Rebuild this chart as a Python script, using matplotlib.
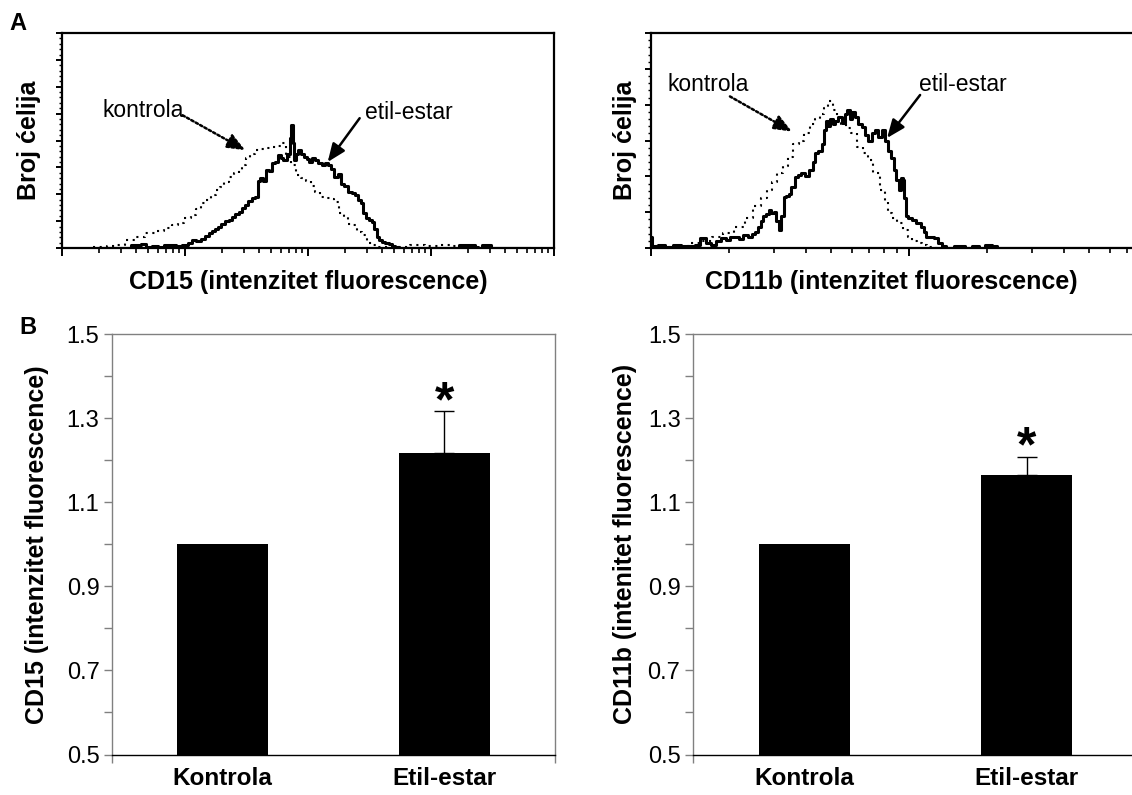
import matplotlib
matplotlib.use("Agg")
import matplotlib.pyplot as plt
import numpy as np
from matplotlib.ticker import FixedLocator, NullFormatter, LogLocator

plt.rcParams['font.family'] = ['Liberation Sans', 'DejaVu Sans']

# ---------------- data ----------------
# Panel A, CD15 histogram (x: log10 fluorescence, y: cell count units)
cd15_kontrola_log = [0.25, 0.33, 0.40, 0.47, 0.55, 0.63, 0.72, 0.80, 0.86, 0.93, 0.96, 1.02, 1.07, 1.11,
                     1.15, 1.19, 1.23, 1.27, 1.30, 1.34, 1.38, 1.42, 1.45, 1.48, 1.51, 1.55, 1.59, 1.64,
                     1.68, 1.72, 1.76, 1.80, 1.84, 1.88, 1.92, 1.96, 2.00, 2.04, 2.08, 2.12, 2.16, 2.20,
                     2.23, 2.27, 2.31, 2.34, 2.38, 2.42, 2.46, 2.50, 2.55, 2.59, 2.65, 2.75, 2.90, 3.00,
                     3.10, 3.20, 3.30, 3.40]
cd15_kontrola_cnt = [0.02, 0.05, 0.08, 0.10, 0.30, 0.42, 0.55, 0.65, 0.74, 0.85, 0.93, 1.10, 1.24, 1.45,
                     1.67, 1.80, 1.98, 2.15, 2.28, 2.45, 2.65, 2.80, 2.90, 3.10, 3.34, 3.50, 3.64, 3.70,
                     3.72, 3.77, 3.80, 3.90, 3.40, 3.10, 2.70, 2.60, 2.50, 2.30, 2.10, 1.90, 1.86, 1.84,
                     1.70, 1.30, 1.15, 0.90, 0.85, 0.60, 0.48, 0.19, 0.10, 0.05, 0.03, 0.05, 0.10, 0.08,
                     0.10, 0.06, 0.02, 0.00]

cd15_etil_log = [0.30, 0.50, 0.62, 0.66, 0.70, 0.76, 0.80, 0.85, 0.90, 0.95, 1.00, 1.04, 1.07, 1.11,
                 1.15, 1.18, 1.21, 1.23, 1.26, 1.28, 1.31, 1.34, 1.37, 1.39, 1.42, 1.45, 1.48, 1.50,
                 1.53, 1.56, 1.58, 1.60, 1.62, 1.65, 1.67, 1.70, 1.72, 1.75, 1.77, 1.79, 1.81, 1.84,
                 1.86, 1.87, 1.88, 1.89, 1.91, 1.93, 1.96, 1.98, 2.00, 2.02, 2.05, 2.07, 2.10, 2.12,
                 2.15, 2.18, 2.20, 2.23, 2.25, 2.28, 2.31, 2.34, 2.37, 2.40, 2.42, 2.44, 2.46, 2.48,
                 2.51, 2.53, 2.55, 2.57, 2.59, 2.61, 2.64, 2.67, 2.70, 2.72, 2.76, 3.20, 3.26, 3.30,
                 3.34, 3.37, 3.40, 3.43, 3.47, 3.50, 3.80]
cd15_etil_cnt = [0.00, 0.00, 0.12, 0.15, 0.05, 0.08, 0.03, 0.10, 0.10, 0.08, 0.12, 0.20, 0.30, 0.25,
                 0.35, 0.45, 0.55, 0.65, 0.72, 0.80, 0.90, 1.00, 1.05, 1.15, 1.25, 1.33, 1.50, 1.60,
                 1.74, 1.85, 1.90, 2.50, 2.60, 2.50, 2.90, 2.85, 3.15, 3.20, 3.45, 3.35, 3.27, 3.50,
                 4.10, 4.57, 3.90, 3.27, 3.50, 3.64, 3.50, 3.40, 3.30, 3.20, 3.35, 3.27, 3.15, 3.10,
                 3.15, 3.10, 2.95, 2.65, 2.75, 2.40, 2.30, 2.10, 2.05, 1.97, 1.80, 1.67, 1.30, 1.10,
                 1.05, 0.98, 0.70, 0.42, 0.30, 0.23, 0.18, 0.15, 0.08, 0.05, 0.00, 0.00, 0.12, 0.10,
                 0.12, 0.05, 0.00, 0.12, 0.10, 0.00, 0.00]

# Panel A, CD11b histogram
cd11b_kontrola_log = [0.02, 0.08, 0.13, 0.177, 0.22, 0.254, 0.30, 0.345, 0.38, 0.41, 0.44, 0.461, 0.48,
                      0.50, 0.52, 0.539, 0.565, 0.585, 0.603, 0.629, 0.645, 0.662, 0.68, 0.694, 0.713,
                      0.73, 0.745, 0.765, 0.784, 0.81, 0.83, 0.849, 0.875, 0.90, 0.915, 0.926, 0.945,
                      0.965, 0.985, 1.004, 1.02, 1.043, 1.06, 1.082, 1.12]
cd11b_kontrola_cnt = [0.05, 0.03, 0.06, 0.14, 0.20, 0.32, 0.42, 0.60, 0.85, 1.16, 1.40, 1.62, 1.85,
                      2.08, 2.30, 2.55, 2.90, 3.00, 3.20, 3.46, 3.60, 3.75, 3.90, 4.10, 3.84,
                      3.65, 3.46, 3.35, 3.20, 2.83, 2.65, 2.45, 2.08, 1.62, 1.30, 0.97, 0.85,
                      0.69, 0.50, 0.32, 0.20, 0.14, 0.08, 0.03, 0.00]

cd11b_etil_log = [0.0, 0.01, 0.04, 0.07, 0.10, 0.13, 0.16, 0.18, 0.203, 0.22, 0.242, 0.26, 0.28, 0.30,
                  0.315, 0.332, 0.35, 0.365, 0.384, 0.40, 0.41, 0.42, 0.429, 0.44, 0.45, 0.461, 0.47,
                  0.48, 0.49, 0.50, 0.51, 0.519, 0.529, 0.539, 0.55, 0.565, 0.575, 0.59, 0.605, 0.623,
                  0.632, 0.642, 0.655, 0.668, 0.675, 0.681, 0.69, 0.70, 0.707, 0.72, 0.733, 0.745,
                  0.755, 0.765, 0.775, 0.785, 0.797, 0.81, 0.823, 0.835, 0.849, 0.862, 0.875, 0.887,
                  0.90, 0.912, 0.926, 0.936, 0.946, 0.955, 0.965, 0.972, 0.978, 0.985, 0.991, 1.004,
                  1.017, 1.035, 1.055, 1.062, 1.068, 1.085, 1.107, 1.12, 1.133, 1.15, 1.20, 1.23,
                  1.26, 1.28, 1.31, 1.33, 1.35, 1.90]
cd11b_etil_cnt = [0.32, 0.05, 0.08, 0.04, 0.07, 0.05, 0.06, 0.08, 0.28, 0.15, 0.09, 0.20, 0.28, 0.22,
                  0.30, 0.32, 0.25, 0.35, 0.32, 0.40, 0.46, 0.60, 0.74, 0.90, 0.95, 1.06, 0.98,
                  1.00, 0.75, 0.50, 0.90, 1.43, 1.45, 1.52, 1.70, 1.99, 2.05, 2.08, 2.00, 2.17,
                  2.40, 2.64, 2.70, 2.90, 3.30, 3.55, 3.40, 3.60, 3.46, 3.55, 3.65, 3.50,
                  3.75, 3.84, 3.60, 3.80, 3.65, 3.45, 3.37, 3.15, 3.00, 3.20, 3.28, 3.10,
                  3.30, 3.00, 2.72, 2.50, 2.17, 1.90, 1.62, 1.95, 1.90, 1.40, 0.88, 0.85,
                  0.79, 0.70, 0.60, 0.45, 0.32, 0.30, 0.28, 0.15, 0.06, 0.00, 0.06, 0.00,
                  0.06, 0.00, 0.07, 0.06, 0.00, 0.00]

# Panel B, bar charts
categories = ['Kontrola', 'Etil-estar']
cd15_mean = [1.0, 1.217]
cd15_err = [0.0, 0.101]
cd11b_mean = [1.0, 1.165]
cd11b_err = [0.0, 0.044]

# ---------------- figure ----------------
W, H = 1132, 795
fig = plt.figure(figsize=(W / 100, H / 100), dpi=100)


def fx(px):
    return px / W


def fy(py):
    return 1 - py / H


def hist_axes(rect, ymax, xmax):
    ax = fig.add_axes(rect)
    ax.set_xscale('log')
    ax.set_xlim(1, xmax)
    ax.set_ylim(0, ymax)
    for s in ax.spines.values():
        s.set_linewidth(1.6)
        s.set_color('black')
    ax.xaxis.set_major_locator(LogLocator(base=10, numticks=10))
    ax.xaxis.set_minor_locator(LogLocator(base=10, subs=np.arange(2, 10), numticks=100))
    ax.xaxis.set_major_formatter(NullFormatter())
    ax.xaxis.set_minor_formatter(NullFormatter())
    ax.yaxis.set_major_locator(FixedLocator(np.arange(0, ymax + 0.01, 1)))
    ax.yaxis.set_minor_locator(FixedLocator(np.arange(0, ymax + 0.01, 0.2)))
    ax.yaxis.set_major_formatter(NullFormatter())
    ax.tick_params(axis='x', which='major', direction='out', length=6, width=1.4, bottom=True, top=False)
    ax.tick_params(axis='x', which='minor', direction='out', length=3.5, width=1.2, bottom=True, top=False)
    ax.tick_params(axis='y', which='major', direction='out', length=4.5, width=1.4, left=True, right=False)
    ax.tick_params(axis='y', which='minor', direction='out', length=2.5, width=1.0, left=True, right=False)
    return ax


def draw_hist(ax, kx, ky, ex, ey):
    ax.plot(np.power(10.0, kx), ky, drawstyle='steps-mid', color='black', lw=1.5,
            linestyle=(0, (1, 2.2)), clip_on=True)
    ax.plot(np.power(10.0, ex), ey, drawstyle='steps-mid', color='black', lw=2.2, clip_on=True)


def arrow(ax, start, tip, dotted):
    ls = (0, (1, 1)) if dotted else '-'
    ax.annotate('', xy=(10 ** tip[0], tip[1]), xytext=(10 ** start[0], start[1]),
                arrowprops=dict(arrowstyle='-|>,head_length=1.1,head_width=0.45',
                                color='black', lw=1.8, linestyle=ls, shrinkA=0, shrinkB=0))


# --- A left: CD15 histogram
ax1 = hist_axes([fx(62), fy(248), fx(554) - fx(62), fy(33) - fy(248)], 8, 1e4)
draw_hist(ax1, cd15_kontrola_log, cd15_kontrola_cnt, cd15_etil_log, cd15_etil_cnt)
ax1.set_xlabel('CD15 (intenzitet fluorescence)', fontsize=18, fontweight='bold')
ax1.xaxis.label.set_va('center')
ax1.xaxis.set_label_coords(0.5, -0.158)
ax1.set_ylabel('Broj ćelija', fontsize=18, fontweight='bold')
ax1.yaxis.label.set_va('center')
ax1.yaxis.set_label_coords(-0.067, 0.5)
ax1.text(10 ** 0.66, 5.1, 'kontrola', fontsize=16.5, ha='center', va='center')
ax1.text(10 ** 2.82, 5.05, 'etil-estar', fontsize=16.5, ha='center', va='center')
arrow(ax1, (0.98, 4.94), (1.49, 3.64), True)
arrow(ax1, (2.42, 4.83), (2.16, 3.2), False)

# --- A right: CD11b histogram (extends past the figure edge)
ax2 = hist_axes([fx(651), fy(248), fx(651 + 516) - fx(651), fy(33) - fy(248)], 6, 100)
draw_hist(ax2, cd11b_kontrola_log, cd11b_kontrola_cnt, cd11b_etil_log, cd11b_etil_cnt)
ax2.set_xlabel('CD11b (intenzitet fluorescence)', fontsize=18, fontweight='bold')
ax2.xaxis.label.set_va('center')
ax2.xaxis.set_label_coords((891 - 651) / 516, -0.158)
ax2.set_ylabel('Broj ćelija', fontsize=18, fontweight='bold')
ax2.yaxis.label.set_va('center')
ax2.yaxis.set_label_coords(-0.050, 0.5)
ax2.text(10 ** 0.22, 4.55, 'kontrola', fontsize=16.5, ha='center', va='center')
ax2.text(10 ** 1.21, 4.55, 'etil-estar', fontsize=16.5, ha='center', va='center')
arrow(ax2, (0.306, 4.23), (0.546, 3.25), True)
arrow(ax2, (1.043, 4.27), (0.915, 3.07), False)


# --- B bar charts
def bar_axes(left_px, width_px, means, errs, ylabel, label_x, star_y):
    ax = fig.add_axes([fx(left_px), fy(754.5), fx(left_px + width_px) - fx(left_px), fy(334.3) - fy(754.5)])
    x = np.arange(len(categories))
    ax.bar(x, means, width=0.41, color='black', bottom=0, zorder=2)
    ax.errorbar(x[1:], means[1:], yerr=[[0] * (len(x) - 1), errs[1:]], fmt='none',
                ecolor='black', elinewidth=1.0, capsize=7, capthick=1.0, zorder=3)
    ax.set_xlim(-0.5, 1.5)
    ax.set_ylim(0.5, 1.5)
    gray = '#808080'
    for side in ['left', 'top', 'right']:
        ax.spines[side].set_color(gray)
        ax.spines[side].set_linewidth(1.0)
    ax.spines['bottom'].set_color('black')
    ax.spines['bottom'].set_linewidth(1.0)
    yt = np.round(np.arange(0.5, 1.51, 0.1), 1)
    ax.set_yticks(yt)
    ax.set_yticklabels([f'{v:.1f}' if i % 2 == 0 else '' for i, v in enumerate(yt)])
    ax.tick_params(axis='y', direction='out', length=6, width=1.0, color=gray, labelsize=17, pad=3)
    ax.set_xticks(x)
    ax.set_xticklabels(categories, fontsize=17.5, fontweight='bold')
    ax.tick_params(axis='x', which='major', length=0, pad=9)
    ax.set_xticks([-0.5, 1.5], minor=True)
    ax.tick_params(axis='x', which='minor', direction='out', length=6, width=1.0, color=gray)
    ax.set_ylabel(ylabel, fontsize=18, fontweight='bold')
    ax.yaxis.label.set_va('center')
    ax.yaxis.set_label_coords(label_x, 0.5)
    ax.text(x[1], star_y, '*', fontsize=36, fontweight='bold', ha='center', va='center')
    return ax


bar_axes(112, 443, cd15_mean, cd15_err, 'CD15 (intenzitet fluorescence)', -0.169, 1.335)
bar_axes(693, 445, cd11b_mean, cd11b_err, 'CD11b (intenitet fluorescence)', -0.153, 1.228)

fig.text(fx(18), fy(23), 'A', fontsize=17, fontweight='bold', ha='center', va='center')
fig.text(fx(27.5), fy(327), 'B', fontsize=17, fontweight='bold', ha='center', va='center')

fig.savefig('out.png', dpi=100)
